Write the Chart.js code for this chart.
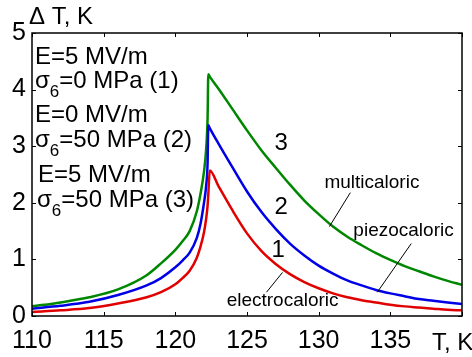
<!DOCTYPE html>
<html>
<head>
<meta charset="UTF-8">
<title>Delta T vs T</title>
<script src="https://cdn.jsdelivr.net/npm/chart.js"></script>
<style>
  html, body { margin: 0; padding: 0; background: #fff; }
  #wrap { width: 472px; height: 357px; }
</style>
</head>
<body>
<div id="wrap"><canvas id="chart" width="472" height="357"></canvas></div>
<script>
// temperature grid, K
const temps = [110, 112, 114, 116, 118, 119, 120, 120.5, 121, 121.5, 121.75, 122, 122.15, 122.25, 122.3, 122.4,
  123, 124, 125, 126, 127, 128, 129, 130, 131, 132, 133, 134, 135, 136, 137, 138, 139, 140];

// electrocaloric (1)
const dtElectro = [0.07, 0.10, 0.14, 0.22, 0.33, 0.42, 0.56, 0.67, 0.80, 1.03, 1.22, 1.48, 1.72, 1.95, 2.15, 2.57,
  2.30, 1.86, 1.46, 1.15, 0.92, 0.74, 0.60, 0.49, 0.40, 0.33, 0.28, 0.24, 0.20, 0.17, 0.15, 0.13, 0.11, 0.10];

// piezocaloric (2)
const dtPiezo = [0.13, 0.18, 0.25, 0.37, 0.54, 0.67, 0.86, 0.98, 1.12, 1.38, 1.62, 2.00, 2.30, 2.70, 3.37, 3.32,
  3.05, 2.62, 2.20, 1.84, 1.54, 1.28, 1.07, 0.89, 0.75, 0.63, 0.54, 0.46, 0.40, 0.35, 0.30, 0.27, 0.24, 0.21];

// multicaloric (3)
const dtMulti = [0.17, 0.24, 0.33, 0.47, 0.72, 0.93, 1.17, 1.32, 1.50, 1.85, 2.15, 2.55, 2.95, 3.50, 4.27, 4.23,
  4.02, 3.65, 3.28, 2.93, 2.62, 2.32, 2.04, 1.80, 1.58, 1.40, 1.25, 1.11, 0.99, 0.88, 0.79, 0.70, 0.62, 0.55];

const xTickStep = 5;
const yTickStep = 1;

// text notes placed in data units [T, dT]
const leftNotes = [
  { text: 'E=5 MV/m', at: [110.21, 4.46] },
  { text: 'σ', sub: '6', rest: '=0 MPa (1)', at: [110.21, 4.02] },
  { text: 'E=0 MV/m', at: [110.21, 3.42] },
  { text: 'σ', sub: '6', rest: '=50 MPa (2)', at: [110.21, 2.98] },
  { text: 'E=5 MV/m', at: [110.42, 2.36] },
  { text: 'σ', sub: '6', rest: '=50 MPa (3)', at: [110.35, 1.92] }
];
const curveNumbers = [
  { text: '3', at: [126.92, 2.93] },
  { text: '2', at: [126.92, 1.81] },
  { text: '1', at: [126.71, 1.04] }
];
const curveNames = [
  { text: 'multicaloric', at: [130.40, 2.27], from: [132.21, 2.18], to: [130.75, 1.58] },
  { text: 'piezocaloric', at: [132.42, 1.41], from: [136.46, 1.28], to: [134.09, 0.42] },
  { text: 'electrocaloric', at: [123.58, 0.17], from: [127.48, 0.77], to: [126.36, 0.42] }
];

const FONT = '"Liberation Sans", Arial, Helvetica, sans-serif';

const pts = arr => temps.map((t, i) => ({ x: t, y: arr[i] }));

const decor = {
  id: 'decor',
  afterDraw(chart) {
    const { ctx, chartArea: a, scales: { x, y } } = chart;
    ctx.save();
    ctx.strokeStyle = '#000';
    ctx.fillStyle = '#000';

    // box
    ctx.lineWidth = 1.5;
    ctx.strokeRect(a.left, a.top, a.right - a.left, a.bottom - a.top);

    // inward ticks on all four sides
    ctx.lineWidth = 1;
    const tl = 4;
    ctx.beginPath();
    x.ticks.forEach(t => {
      const px = Math.round(x.getPixelForValue(t.value)) + 0.5;
      ctx.moveTo(px, a.bottom); ctx.lineTo(px, a.bottom - tl);
      ctx.moveTo(px, a.top); ctx.lineTo(px, a.top + tl);
    });
    y.ticks.forEach(t => {
      const py = Math.round(y.getPixelForValue(t.value)) + 0.5;
      ctx.moveTo(a.left, py); ctx.lineTo(a.left + tl, py);
      ctx.moveTo(a.right, py); ctx.lineTo(a.right - tl, py);
    });
    ctx.stroke();

    // axis titles
    ctx.textBaseline = 'alphabetic';
    ctx.textAlign = 'left';
    ctx.font = '24px ' + FONT;
    ctx.fillText('Δ T, K', a.left - 3, a.top - 9);
    ctx.fillText('T, K', a.right - 30, a.bottom + 34);

    // left notes
    leftNotes.forEach(n => {
      let px = x.getPixelForValue(n.at[0]);
      const py = y.getPixelForValue(n.at[1]);
      ctx.font = '24px ' + FONT;
      ctx.fillText(n.text, px, py);
      if (n.sub) {
        px += ctx.measureText(n.text).width;
        ctx.font = '17px ' + FONT;
        ctx.fillText(n.sub, px, py + 9);
        px += ctx.measureText(n.sub).width;
        ctx.font = '24px ' + FONT;
        ctx.fillText(n.rest, px, py);
      }
    });

    // curve numbers
    ctx.font = '24px ' + FONT;
    curveNumbers.forEach(n => {
      ctx.fillText(n.text, x.getPixelForValue(n.at[0]), y.getPixelForValue(n.at[1]));
    });

    // curve names with leader lines
    ctx.font = '19px ' + FONT;
    ctx.lineWidth = 1;
    curveNames.forEach(n => {
      ctx.fillText(n.text, x.getPixelForValue(n.at[0]), y.getPixelForValue(n.at[1]));
      ctx.beginPath();
      ctx.moveTo(x.getPixelForValue(n.from[0]), y.getPixelForValue(n.from[1]));
      ctx.lineTo(x.getPixelForValue(n.to[0]), y.getPixelForValue(n.to[1]));
      ctx.stroke();
    });
    ctx.restore();
  }
};

new Chart(document.getElementById('chart'), {
  type: 'line',
  data: {
    datasets: [
      { label: 'electrocaloric', data: pts(dtElectro), borderColor: 'rgb(225,0,0)' },
      { label: 'piezocaloric', data: pts(dtPiezo), borderColor: 'rgb(0,0,230)' },
      { label: 'multicaloric', data: pts(dtMulti), borderColor: 'rgb(0,135,0)' }
    ]
  },
  options: {
    responsive: false,
    animation: false,
    layout: { padding: { top: 33, right: 10, left: 0, bottom: 0 } },
    elements: {
      point: { radius: 0 },
      line: { borderWidth: 2.5, cubicInterpolationMode: 'monotone', fill: false }
    },
    plugins: { legend: { display: false }, tooltip: { enabled: false } },
    scales: {
      x: {
        type: 'linear', min: 110, max: 140,
        grid: { display: false, drawTicks: false },
        border: { display: false },
        ticks: {
          stepSize: xTickStep, color: '#000', padding: 10,
          font: { family: FONT, size: 25 },
          maxRotation: 0,
          callback: v => (v === 140 ? '' : v)
        },
        afterFit: s => { s.height = 41; }
      },
      y: {
        min: 0, max: 5,
        grid: { display: false, drawTicks: false },
        border: { display: false },
        ticks: {
          stepSize: yTickStep, color: '#000', padding: 6,
          font: { family: FONT, size: 25 }
        },
        afterFit: s => { s.width = 32; }
      }
    }
  },
  plugins: [decor]
});
</script>
</body>
</html>
